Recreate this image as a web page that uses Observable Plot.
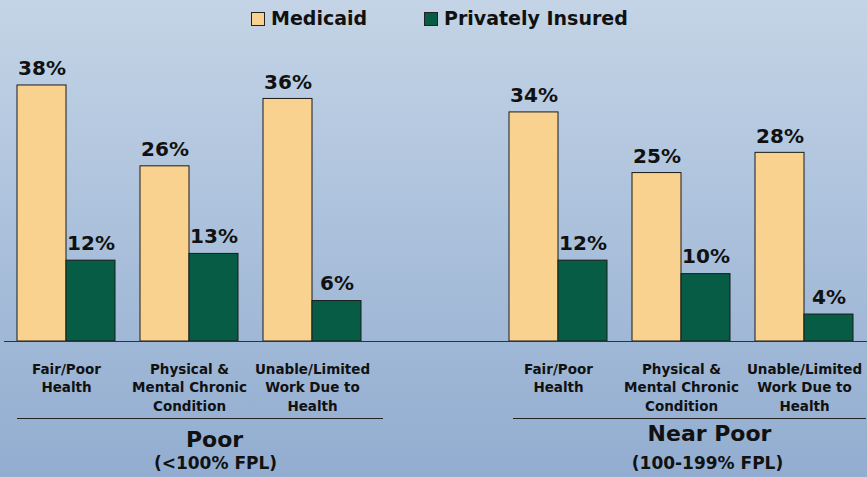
<!DOCTYPE html>
<html>
<head>
<meta charset="utf-8">
<script src="https://cdn.jsdelivr.net/npm/d3@7"></script>
<script src="https://cdn.jsdelivr.net/npm/@observablehq/plot@0.6"></script>
<style>
  html, body { margin: 0; padding: 0; }
  #chart {
    position: relative;
    width: 867px; height: 477px; overflow: hidden;
    background: linear-gradient(to bottom, #c4d4e6 0%, #aac0db 50%, #92add0 100%);
    font-family: "DejaVu Sans", Verdana, sans-serif;
  }
  #legend { position: relative; height: 40px; }
  .item { position: absolute; top: 7px; display: flex; align-items: center; font-weight: bold; font-size: 19px; color: #111; }
  .sw { width: 12px; height: 12px; border: 1px solid #222; margin-right: 6px; margin-top: 2px; }
  svg { display: block; }
</style>
</head>
<body>
<div id="chart"><div id="legend"></div></div>
<script>
const groups = ["Poor", "Near Poor"];
const groupSubtitles = ["(<100% FPL)", "(100-199% FPL)"];
const categories = ["Fair/Poor\nHealth", "Physical &\nMental Chronic\nCondition", "Unable/Limited\nWork Due to\nHealth"];
const series = ["Medicaid", "Privately Insured"];
const colors = ["#f9d28f", "#065c45"];
const medicaid = [38, 26, 36, 34, 25, 28];
const privatelyInsured = [12, 13, 6, 12, 10, 4];

// build rows
const rows = [];
groups.forEach((g, gi) => categories.forEach((c, ci) => {
  const i = gi * categories.length + ci;
  rows.push({group: g, category: c, slot: g + "|" + c, medicaid: medicaid[i], priv: privatelyInsured[i]});
}));
const slotDomain = [...rows.filter(r => r.group === groups[0]).map(r => r.slot), "",
                    ...rows.filter(r => r.group === groups[1]).map(r => r.slot)];
const groupRows = groups.map((g, gi) => ({
  name: g, subtitle: groupSubtitles[gi],
  mid: g + "|" + categories[1], first: g + "|" + categories[0], last: g + "|" + categories[2]
}));

// legend
const legend = document.getElementById("legend");
const legendLeft = [251, 424];
series.forEach((s, i) => {
  const it = document.createElement("div");
  it.className = "item";
  it.style.left = legendLeft[i] + "px";
  it.innerHTML = `<span class="sw" style="background:${colors[i]}"></span><span>${s}</span>`;
  legend.appendChild(it);
});

const half = 49;
const font = "DejaVu Sans, Verdana, sans-serif";

const plot = Plot.plot({
  width: 867,
  height: 437,
  marginLeft: 16,
  marginRight: 13,
  marginTop: 31.5,
  marginBottom: 136,
  style: {background: "transparent", fontFamily: font, color: "#111", overflow: "visible"},
  x: {domain: slotDomain, paddingInner: 0.2054, paddingOuter: 0, axis: null},
  y: {domain: [0, 40], axis: null},
  marks: [
    Plot.barY(rows, {x: "slot", y: "medicaid", fill: colors[0], stroke: "#1a1a1a", strokeWidth: 1, insetRight: half}),
    Plot.barY(rows, {x: "slot", y: "priv", fill: colors[1], stroke: "#1a1a1a", strokeWidth: 1, insetLeft: half}),
    Plot.ruleY([0], {stroke: "#333", strokeWidth: 1.2, insetLeft: -12, insetRight: -13}),
    Plot.text(rows, {x: "slot", y: "medicaid", text: d => d.medicaid + "%", dx: -half / 2, dy: -10, lineAnchor: "bottom", fontSize: 20, fontWeight: "bold", fill: "#111"}),
    Plot.text(rows, {x: "slot", y: "priv", text: d => d.priv + "%", dx: half / 2, dy: -11, lineAnchor: "bottom", fontSize: 20, fontWeight: "bold", fill: "#111"}),
    Plot.text(rows, {x: "slot", y: () => 0, text: "category", lineAnchor: "top", dy: 19, fontSize: 13.5, fontWeight: "bold", lineHeight: 1.37, fill: "#111"}),
    Plot.ruleY([groupRows[0]], {y: () => 0, x1: "first", x2: "last", dy: 77, stroke: "#222", strokeWidth: 1.2, insetRight: -22}),
    Plot.ruleY([groupRows[1]], {y: () => 0, x1: "first", x2: "last", dy: 77, stroke: "#222", strokeWidth: 1.2, insetLeft: 4, insetRight: -13}),
    Plot.text([groupRows[0]], {x: "mid", y: () => 0, text: "name", dx: 25, dy: 105, lineAnchor: "bottom", fontSize: 22, fontWeight: "bold", fill: "#111"}),
    Plot.text([groupRows[1]], {x: "mid", y: () => 0, text: "name", dx: 28, dy: 99, lineAnchor: "bottom", fontSize: 22, fontWeight: "bold", fill: "#111"}),
    Plot.text(groupRows, {x: "mid", y: () => 0, text: "subtitle", dx: 26, dy: 127, lineAnchor: "bottom", fontSize: 17, fontWeight: "bold", fill: "#111"})
  ]
});
document.getElementById("chart").appendChild(plot);
</script>
</body>
</html>
